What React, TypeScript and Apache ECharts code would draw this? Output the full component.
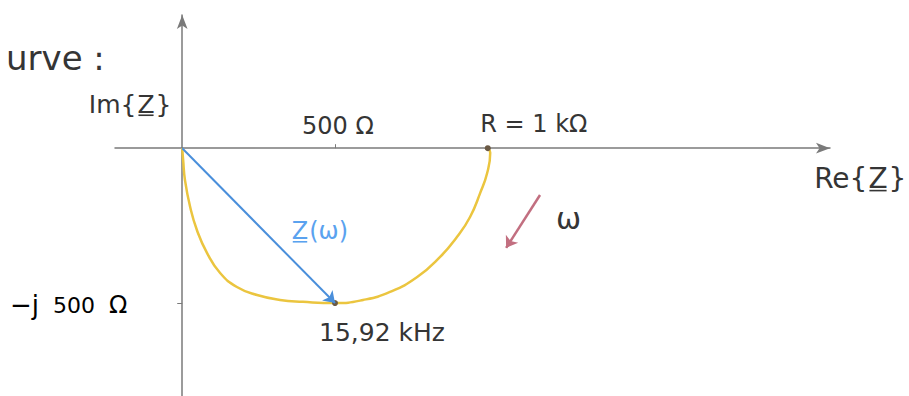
import React, { useEffect, useRef } from "react";
import * as echarts from "echarts";

// Locus curve of Z(ω): real part (Ω) and imaginary part (Ω)
const curveRe = [0, 3, 9, 26, 48, 81, 124, 179, 245, 320, 395, 500, 592, 680, 769, 844, 899, 942, 975, 998, 1008, 1000];
const curveIm = [0, -38, -103, -190, -264, -338, -403, -448, -474, -490, -496, -500, -490, -464, -416, -351, -287, -222, -145, -80, -15, 0];

// Marked points: Z at the corner frequency, and R at ω = 0
const markRe = [500, 1000];
const markIm = [-500, 0];
const markLabels = ["15,92 kHz", "R = 1 kΩ"];

// Phasor Z(ω) at the corner frequency
const phasorFrom = [0, 0];
const phasorTo = [500, -500];

// Direction of increasing ω
const omegaFrom = [1171, -151];
const omegaTo = [1060, -322];

const xTicks = [500];
const yTicks = [-500];

const FONT = "DejaVu Sans";
const INK = "#353535";
const AXIS = "#7a7a7a";
const BLUE_TEXT = "#5aa2ef";

// Text with an underlined "Z": prefix + Z̲ + suffix
function underlinedZ(
  prefix: string,
  suffix: string,
  cx: number,
  cy: number,
  size: number,
  color: string
) {
  const zw = 0.685 * size;
  const font = `${size}px "${FONT}"`;
  const uy = cy + 0.45 * size;
  return [
    {
      type: "text",
      x: cx - zw / 2 - 1,
      y: cy,
      style: { text: prefix, font, fill: color, align: "right", verticalAlign: "middle" },
    },
    {
      type: "text",
      x: cx,
      y: cy,
      style: { text: "Z", font, fill: color, align: "center", verticalAlign: "middle" },
    },
    {
      type: "line",
      shape: { x1: cx - zw / 2 + 1, y1: uy, x2: cx + zw / 2 - 1, y2: uy },
      style: { stroke: color, lineWidth: 1.6 },
    },
    {
      type: "text",
      x: cx + zw / 2 + 1,
      y: cy,
      style: { text: suffix, font, fill: color, align: "left", verticalAlign: "middle" },
    },
  ];
}

export default function App() {
  const ref = useRef<HTMLDivElement>(null);

  useEffect(() => {
    if (!ref.current) return;
    const chart = echarts.init(ref.current, null, { renderer: "svg" });
    const curve = curveRe.map((r, i) => [r, curveIm[i]]);
    const marks = markRe.map((r, i) => ({
      value: [r, markIm[i]],
      label:
        i === 0
          ? {
              show: true,
              formatter: markLabels[i],
              position: "bottom",
              offset: [47, 9],
              fontSize: 25,
              fontFamily: FONT,
              color: INK,
            }
          : {
              show: true,
              formatter: markLabels[i],
              position: "top",
              offset: [46, -4],
              fontSize: 24,
              fontFamily: FONT,
              color: INK,
            },
    }));

    chart.setOption({
      animation: false,
      backgroundColor: "#fff",
      textStyle: { fontFamily: FONT },
      grid: { left: 115, right: 79, top: 15, bottom: 0, containLabel: false },
      xAxis: {
        type: "value",
        min: -220,
        max: 2120,
        axisLine: {
          onZero: true,
          lineStyle: { color: AXIS, width: 1.5 },
          symbol: ["none", "arrow"],
          symbolSize: [8, 14],
        },
        axisTick: { show: true, customValues: xTicks, length: 4, inside: true, lineStyle: { color: AXIS } },
        axisLabel: { show: false },
        splitLine: { show: false },
      },
      yAxis: {
        type: "value",
        min: -800,
        max: 430,
        axisLine: {
          onZero: true,
          lineStyle: { color: AXIS, width: 1.5 },
          symbol: ["none", "arrow"],
          symbolSize: [8, 14],
        },
        axisTick: { show: true, customValues: yTicks, length: 5, lineStyle: { color: AXIS } },
        axisLabel: { show: false },
        splitLine: { show: false },
      },
      series: [
        {
          type: "line",
          data: curve,
          smooth: true,
          showSymbol: false,
          lineStyle: { color: "#ebc53f", width: 2.5 },
          z: 2,
        },
        {
          type: "scatter",
          data: marks,
          symbolSize: 6,
          itemStyle: { color: "#6b5a45", opacity: 1 },
          z: 4,
          markLine: {
            silent: true,
            symbol: ["none", "arrow"],
            symbolSize: 11,
            label: { show: false },
            data: [
              [
                { coord: phasorFrom, lineStyle: { color: "#4a8fdb", width: 2, type: "solid" } },
                { coord: phasorTo },
              ],
              [
                { coord: omegaFrom, lineStyle: { color: "#c26f80", width: 2.5, type: "solid", curveness: 0.22 } },
                { coord: omegaTo },
              ],
            ],
          },
        },
      ],
      graphic: [
        {
          type: "text",
          x: 6,
          y: 58,
          style: { text: "urve :", font: `34px "${FONT}"`, fill: INK, verticalAlign: "middle" },
        },
        ...underlinedZ("Im{", "}", 146, 104, 25, INK),
        ...underlinedZ("Re{", "}", 878, 178, 28, INK),
        ...underlinedZ("", "(ω)", 300, 231, 24, BLUE_TEXT),
        {
          type: "text",
          x: 302,
          y: 126,
          style: { text: "500 Ω", font: `24px "${FONT}"`, fill: INK, verticalAlign: "middle" },
        },
        {
          type: "text",
          x: 10,
          y: 305,
          style: {
            text: "{a|−j}{b|500}{c|Ω}",
            verticalAlign: "middle",
            rich: {
              a: { fontFamily: FONT, fontSize: 26, color: INK, padding: [0, 14, 0, 0] },
              b: { fontFamily: FONT, fontSize: 22, color: INK, padding: [0, 14, 0, 0] },
              c: { fontFamily: FONT, fontSize: 24, color: INK },
            },
          },
        },
        {
          type: "text",
          x: 556,
          y: 218,
          style: { text: "ω", font: `30px "${FONT}"`, fill: INK, verticalAlign: "middle" },
        },
      ],
    });

    return () => chart.dispose();
  }, []);

  return (
    <div
      ref={ref}
      style={{ position: "fixed", left: 0, top: 0, width: 909, height: 396, background: "#fff" }}
    />
  );
}
